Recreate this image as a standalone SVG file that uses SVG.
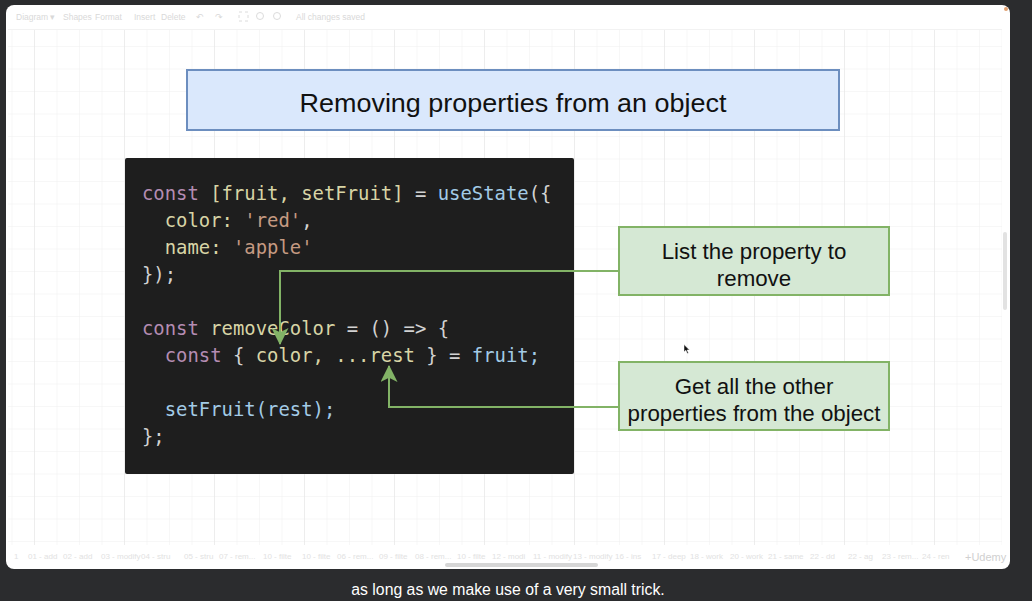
<svg xmlns="http://www.w3.org/2000/svg" width="1032" height="601" viewBox="0 0 1032 601">
<defs>
<style>
.tb{font-family:"Liberation Sans",Arial,sans-serif;font-size:8.5px;fill:#d9d9d9}
.tab{font-family:"Liberation Sans",Arial,sans-serif;font-size:8px;fill:#e2e2e2}
.code{font-family:"DejaVu Sans Mono",monospace;font-size:18.9px}
.kw{fill:#b48cb2}.yl{fill:#d8d5a6}.bl{fill:#a3cbe6}.st{fill:#c59a82}.pn{fill:#d2d2d2}
.lbl{font-family:"Liberation Sans",Arial,sans-serif;font-size:22.3px;fill:#111;text-anchor:middle}
.gbox{fill:#d5e8d4;stroke:#82b366;stroke-width:2}
.conn{fill:none;stroke:#82b366;stroke-width:2}
</style>
<pattern id="grid" x="11.5" y="1" width="22.5" height="22.5" patternUnits="userSpaceOnUse">
<path d="M0 0V22.5M0 0H22.5" fill="none" stroke="#efefef" stroke-width="1"/>
</pattern>
<pattern id="gridM" x="34" y="1" width="90" height="90" patternUnits="userSpaceOnUse">
<path d="M0 0V90" fill="none" stroke="#e4e4e4" stroke-width="1"/>
</pattern>
<marker id="ah" viewBox="0 0 16 16" refX="15" refY="8" markerWidth="17" markerHeight="17" markerUnits="userSpaceOnUse" orient="auto">
<path d="M0 0L16 8L0 16L4 8Z" fill="#82b366"/>
</marker>
</defs>
<rect width="1032" height="601" fill="#2b2c2e"/>
<rect x="6" y="5" width="1004" height="564" rx="8" fill="#ffffff"/>
<rect x="8" y="30" width="994" height="515" fill="url(#grid)"/>
<rect x="8" y="30" width="994" height="515" fill="url(#gridM)"/>
<g id="toolbar">
<text class="tb" x="16" y="20">Diagram ▾</text>
<text class="tb" x="63" y="20">Shapes</text>
<text class="tb" x="95" y="20">Format</text>
<text class="tb" x="134" y="20">Insert</text>
<text class="tb" x="161" y="20" fill="#ececec">Delete</text>
<text class="tb" x="196" y="20">↶</text>
<text class="tb" x="215" y="20" fill="#ececec">↷</text>
<rect x="239" y="12" width="9" height="9" fill="none" stroke="#dcdcdc" stroke-dasharray="3 3"/>
<circle cx="260" cy="16" r="3.5" fill="none" stroke="#dcdcdc"/>
<circle cx="277" cy="16" r="3.5" fill="none" stroke="#dcdcdc"/>
<text class="tb" x="296" y="20">All changes saved</text>
<line x1="8" y1="29.5" x2="1002" y2="29.5" stroke="#f2f2f2"/>
</g>
<g id="title">
<rect x="187" y="70" width="652" height="60" fill="#dae8fc" stroke="#6c8ebf" stroke-width="2"/>
<text x="513" y="112" font-family="Liberation Sans,Arial,sans-serif" font-size="26" fill="#111" text-anchor="middle" textLength="427" lengthAdjust="spacingAndGlyphs">Removing properties from an object</text>
</g>
<g id="code">
<rect x="125" y="158" width="449" height="316" rx="2" fill="#1e1e1e"/>
<text class="code" xml:space="preserve" x="142" y="200"><tspan class="kw">const</tspan><tspan class="yl"> [fruit, setFruit]</tspan><tspan class="pn"> = </tspan><tspan class="bl">useState</tspan><tspan class="pn">({</tspan></text>
<text class="code" xml:space="preserve" x="142" y="227"><tspan class="yl">  color: </tspan><tspan class="st">'red'</tspan><tspan class="pn">,</tspan></text>
<text class="code" xml:space="preserve" x="142" y="254"><tspan class="yl">  name: </tspan><tspan class="st">'apple'</tspan></text>
<text class="code pn" xml:space="preserve" x="142" y="281">});</text>
<text class="code" xml:space="preserve" x="142" y="335"><tspan class="kw">const</tspan><tspan class="yl"> removeColor</tspan><tspan class="pn"> = () =&gt; {</tspan></text>
<text class="code" xml:space="preserve" x="142" y="362"><tspan class="kw">  const</tspan><tspan class="pn"> { </tspan><tspan class="yl">color, ...rest</tspan><tspan class="pn"> } = </tspan><tspan class="bl">fruit;</tspan></text>
<text class="code bl" xml:space="preserve" x="142" y="416">  setFruit(rest);</text>
<text class="code pn" xml:space="preserve" x="142" y="443">};</text>
</g>
<g id="connectors">
<path class="conn" d="M619 271H280V344" marker-end="url(#ah)"/>
<path class="conn" d="M619 407H389V366" marker-end="url(#ah)"/>
</g>
<g id="box-remove">
<rect class="gbox" x="619" y="227" width="270" height="68"/>
<text class="lbl" x="754" y="259">List the property to</text>
<text class="lbl" x="754" y="286">remove</text>
</g>
<g id="box-rest">
<rect class="gbox" x="619" y="362" width="270" height="68"/>
<text class="lbl" x="754" y="394">Get all the other</text>
<text class="lbl" x="754" y="421">properties from the object</text>
</g>
<path d="M684 344.5V352L685.8 350.3L687.3 353.5L688.5 353L687 350H689.5Z" fill="#111" stroke="#fff" stroke-width="0.5"/>
<rect x="1003" y="232" width="4" height="78" rx="2" fill="#e2e2e2"/>
<circle cx="1006" cy="9" r="2" fill="#e0a070"/>
<g id="tabs">
<text class="tab" x="14" y="559">1</text>
<text class="tab" x="28" y="559">01 - add</text>
<text class="tab" x="63" y="559">02 - add</text>
<text class="tab" x="101" y="559">03 - modify</text>
<text class="tab" x="141" y="559">04 - stru</text>
<text class="tab" x="184" y="559">05 - stru</text>
<text class="tab" x="219" y="559">07 - rem...</text>
<text class="tab" x="263" y="559">10 - filte</text>
<text class="tab" x="302" y="559">10 - filte</text>
<text class="tab" x="337" y="559">06 - rem...</text>
<text class="tab" x="379" y="559">09 - filte</text>
<text class="tab" x="415" y="559">08 - rem...</text>
<text class="tab" x="457" y="559">10 - filte</text>
<text class="tab" x="492" y="559">12 - modi</text>
<text class="tab" x="533" y="559">11 - modify</text>
<text class="tab" x="573" y="559">13 - modify</text>
<text class="tab" x="615" y="559">16 - ins</text>
<text class="tab" x="652" y="559">17 - deep</text>
<text class="tab" x="690" y="559">18 - work</text>
<text class="tab" x="730" y="559">20 - work</text>
<text class="tab" x="768" y="559">21 - same</text>
<text class="tab" x="810" y="559">22 - dd</text>
<text class="tab" x="848" y="559">22 - ag</text>
<text class="tab" x="882" y="559" fill="#c8c8c8">23 - rem...</text>
<text class="tab" x="922" y="559">24 - ren</text>
<text x="965" y="561" font-family="Liberation Sans,Arial,sans-serif" font-size="11" fill="#d0d0d0">+Udemy</text>
<rect x="445" y="563" width="153" height="4" rx="2" fill="#d6d6d6"/>
</g>
<text x="508" y="595" font-family="Liberation Sans,Arial,sans-serif" font-size="15.8" fill="#ffffff" text-anchor="middle">as long as we make use of a very small trick.</text>
</svg>
